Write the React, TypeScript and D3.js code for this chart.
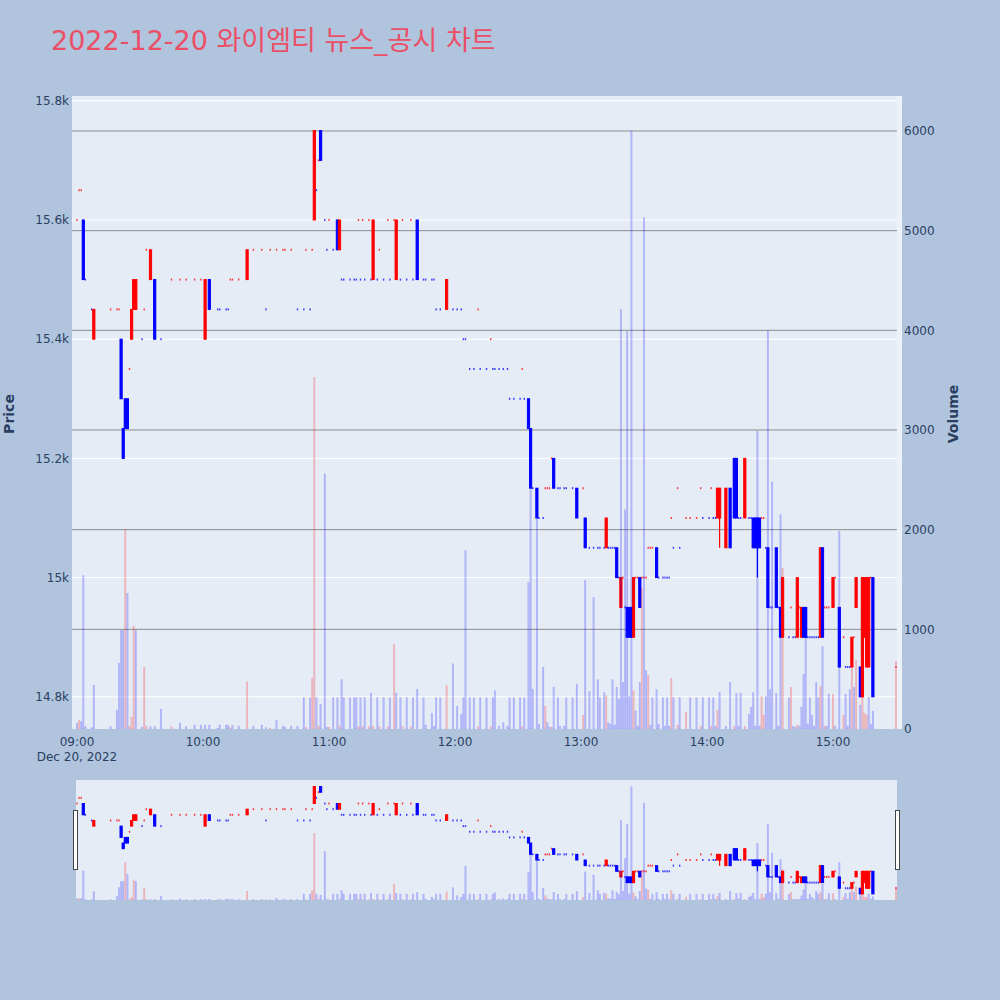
import React, { useEffect } from "react";
import * as d3 from "d3";

const TITLE = "2022-12-20 와이엠티 뉴스_공시 차트";
const timeTicks = [0, 60, 120, 180, 240, 300, 360];
const timeLabels = ["09:00", "10:00", "11:00", "12:00", "13:00", "14:00", "15:00"];
const dateLabel = "Dec 20, 2022";
const priceTicks = [14800, 15000, 15200, 15400, 15600, 15800];
const priceLabels = ["14.8k", "15k", "15.2k", "15.4k", "15.6k", "15.8k"];
const volumeTicks = [0, 1000, 2000, 3000, 4000, 5000, 6000];
const volumeGrid = [1000, 2000, 3000, 4000, 5000, 6000];

// [minutes after 09:00, open, high, low, close, volume, candle colour + volume colour]
const bars: [number, number, number, number, number, number, string][] = [
  [0, 15600, 15600, 15600, 15600, 60, "rb"],
  [1, 15650, 15650, 15650, 15650, 90, "rr"],
  [2, 15650, 15650, 15650, 15650, 75, "rb"],
  [3, 15600, 15600, 15500, 15500, 1540, "bb"],
  [4, 15500, 15500, 15500, 15500, 25, "bb"],
  [7, 15450, 15450, 15450, 15450, 15, "bb"],
  [8, 15400, 15450, 15400, 15450, 440, "rb"],
  [16, 15450, 15450, 15450, 15450, 25, "rb"],
  [19, 15450, 15450, 15450, 15450, 190, "rb"],
  [20, 15450, 15450, 15450, 15450, 660, "rb"],
  [21, 15400, 15400, 15300, 15300, 990, "bb"],
  [22, 15250, 15250, 15200, 15200, 990, "bb"],
  [23, 15300, 15300, 15250, 15250, 2000, "br"],
  [24, 15300, 15300, 15250, 15250, 1360, "bb"],
  [25, 15350, 15350, 15350, 15350, 30, "rr"],
  [26, 15400, 15450, 15400, 15450, 120, "rr"],
  [27, 15450, 15500, 15450, 15500, 1030, "rr"],
  [28, 15450, 15500, 15450, 15500, 990, "rb"],
  [31, 15400, 15400, 15400, 15400, 20, "bb"],
  [32, 15450, 15450, 15450, 15450, 620, "rr"],
  [33, 15550, 15550, 15550, 15550, 30, "rr"],
  [35, 15500, 15550, 15500, 15550, 25, "rb"],
  [37, 15500, 15500, 15400, 15400, 25, "bb"],
  [40, 15400, 15400, 15400, 15400, 200, "bb"],
  [45, 15500, 15500, 15500, 15500, 25, "rr"],
  [49, 15500, 15500, 15500, 15500, 60, "rb"],
  [52, 15500, 15500, 15500, 15500, 25, "rb"],
  [56, 15500, 15500, 15500, 15500, 40, "rb"],
  [59, 15500, 15500, 15500, 15500, 40, "rb"],
  [61, 15400, 15500, 15400, 15500, 40, "rb"],
  [63, 15500, 15500, 15450, 15450, 40, "bb"],
  [67, 15450, 15450, 15450, 15450, 10, "bb"],
  [68, 15450, 15450, 15450, 15450, 40, "bb"],
  [71, 15450, 15450, 15450, 15450, 40, "bb"],
  [72, 15450, 15450, 15450, 15450, 40, "bb"],
  [73, 15500, 15500, 15500, 15500, 15, "rr"],
  [74, 15500, 15500, 15500, 15500, 40, "rb"],
  [77, 15500, 15500, 15500, 15500, 30, "rb"],
  [81, 15500, 15550, 15500, 15550, 475, "rr"],
  [84, 15550, 15550, 15550, 15550, 30, "rb"],
  [88, 15550, 15550, 15550, 15550, 40, "rb"],
  [90, 15450, 15450, 15450, 15450, 15, "bb"],
  [92, 15550, 15550, 15550, 15550, 10, "rr"],
  [95, 15550, 15550, 15550, 15550, 85, "rb"],
  [98, 15550, 15550, 15550, 15550, 30, "rb"],
  [99, 15550, 15550, 15550, 15550, 20, "rb"],
  [102, 15550, 15550, 15550, 15550, 30, "rb"],
  [105, 15450, 15450, 15450, 15450, 30, "bb"],
  [108, 15450, 15450, 15450, 15450, 315, "bb"],
  [109, 15550, 15550, 15550, 15550, 20, "rr"],
  [111, 15450, 15450, 15450, 15450, 315, "bb"],
  [112, 15550, 15550, 15550, 15550, 510, "rr"],
  [113, 15600, 15750, 15600, 15750, 3530, "rr"],
  [114, 15650, 15650, 15650, 15650, 315, "bb"],
  [115, 15700, 15700, 15700, 15700, 30, "rr"],
  [116, 15750, 15750, 15700, 15700, 250, "bb"],
  [118, 15600, 15600, 15600, 15600, 2560, "bb"],
  [119, 15550, 15550, 15550, 15550, 20, "bb"],
  [120, 15600, 15600, 15600, 15600, 20, "rr"],
  [122, 15550, 15550, 15550, 15550, 315, "bb"],
  [124, 15600, 15600, 15550, 15550, 315, "bb"],
  [125, 15550, 15600, 15550, 15600, 30, "rr"],
  [126, 15500, 15500, 15500, 15500, 495, "bb"],
  [127, 15500, 15500, 15500, 15500, 315, "bb"],
  [130, 15500, 15500, 15500, 15500, 315, "bb"],
  [132, 15500, 15500, 15500, 15500, 315, "bb"],
  [133, 15500, 15500, 15500, 15500, 315, "bb"],
  [134, 15600, 15600, 15600, 15600, 25, "rr"],
  [135, 15500, 15500, 15500, 15500, 315, "bb"],
  [136, 15600, 15600, 15600, 15600, 25, "rr"],
  [137, 15500, 15500, 15500, 15500, 315, "bb"],
  [139, 15600, 15600, 15600, 15600, 25, "rr"],
  [140, 15500, 15500, 15500, 15500, 360, "bb"],
  [141, 15500, 15600, 15500, 15600, 30, "rr"],
  [143, 15500, 15500, 15500, 15500, 315, "bb"],
  [144, 15550, 15550, 15550, 15550, 25, "rr"],
  [146, 15500, 15500, 15500, 15500, 315, "bb"],
  [148, 15600, 15600, 15600, 15600, 25, "rr"],
  [149, 15500, 15500, 15500, 15500, 315, "bb"],
  [151, 15600, 15600, 15600, 15600, 850, "rr"],
  [152, 15500, 15600, 15500, 15600, 360, "rb"],
  [154, 15500, 15500, 15500, 15500, 315, "bb"],
  [155, 15600, 15600, 15600, 15600, 25, "rr"],
  [157, 15500, 15500, 15500, 15500, 315, "bb"],
  [159, 15600, 15600, 15600, 15600, 25, "rr"],
  [160, 15500, 15500, 15500, 15500, 315, "bb"],
  [162, 15600, 15600, 15500, 15500, 400, "bb"],
  [165, 15500, 15500, 15500, 15500, 315, "bb"],
  [166, 15500, 15500, 15500, 15500, 40, "bb"],
  [169, 15500, 15500, 15500, 15500, 160, "bb"],
  [170, 15500, 15500, 15500, 15500, 30, "bb"],
  [171, 15450, 15450, 15450, 15450, 315, "bb"],
  [173, 15450, 15450, 15450, 15450, 315, "bb"],
  [176, 15450, 15500, 15450, 15500, 435, "rr"],
  [179, 15450, 15450, 15450, 15450, 655, "bb"],
  [181, 15450, 15450, 15450, 15450, 230, "bb"],
  [183, 15450, 15450, 15450, 15450, 150, "bb"],
  [184, 15400, 15400, 15400, 15400, 315, "bb"],
  [185, 15400, 15400, 15400, 15400, 1790, "bb"],
  [187, 15350, 15350, 15350, 15350, 315, "bb"],
  [189, 15350, 15350, 15350, 15350, 315, "bb"],
  [191, 15450, 15450, 15450, 15450, 25, "rr"],
  [192, 15350, 15350, 15350, 15350, 315, "bb"],
  [195, 15350, 15350, 15350, 15350, 315, "bb"],
  [197, 15400, 15400, 15400, 15400, 25, "rr"],
  [198, 15350, 15350, 15350, 15350, 315, "bb"],
  [199, 15350, 15350, 15350, 15350, 385, "bb"],
  [201, 15350, 15350, 15350, 15350, 30, "bb"],
  [203, 15350, 15350, 15350, 15350, 65, "bb"],
  [205, 15350, 15350, 15350, 15350, 30, "bb"],
  [206, 15300, 15300, 15300, 15300, 315, "bb"],
  [208, 15300, 15300, 15300, 15300, 315, "bb"],
  [211, 15300, 15300, 15300, 15300, 315, "bb"],
  [212, 15350, 15350, 15350, 15350, 25, "rr"],
  [213, 15300, 15300, 15300, 15300, 315, "bb"],
  [215, 15300, 15300, 15250, 15250, 1470, "bb"],
  [216, 15250, 15250, 15150, 15150, 2400, "bb"],
  [217, 15150, 15150, 15150, 15150, 400, "bb"],
  [219, 15150, 15150, 15100, 15100, 2110, "bb"],
  [220, 15100, 15100, 15100, 15100, 50, "bb"],
  [222, 15100, 15100, 15100, 15100, 620, "bb"],
  [223, 15150, 15150, 15150, 15150, 230, "rr"],
  [224, 15150, 15150, 15150, 15150, 65, "rb"],
  [225, 15150, 15150, 15150, 15150, 20, "rb"],
  [226, 15200, 15200, 15200, 15200, 20, "rr"],
  [227, 15200, 15200, 15150, 15150, 420, "bb"],
  [229, 15150, 15150, 15150, 15150, 315, "bb"],
  [230, 15150, 15150, 15150, 15150, 30, "bb"],
  [232, 15150, 15150, 15150, 15150, 30, "bb"],
  [233, 15150, 15150, 15150, 15150, 315, "bb"],
  [236, 15150, 15150, 15150, 15150, 315, "bb"],
  [238, 15150, 15150, 15100, 15100, 450, "bb"],
  [241, 15150, 15150, 15150, 15150, 140, "rr"],
  [242, 15100, 15100, 15050, 15050, 1490, "bb"],
  [244, 15050, 15050, 15050, 15050, 375, "bb"],
  [246, 15050, 15050, 15050, 15050, 1320, "bb"],
  [248, 15050, 15050, 15050, 15050, 495, "bb"],
  [249, 15050, 15050, 15050, 15050, 315, "bb"],
  [251, 15050, 15050, 15050, 15050, 365, "bb"],
  [252, 15050, 15100, 15050, 15100, 335, "rr"],
  [253, 15050, 15050, 15050, 15050, 65, "bb"],
  [254, 15050, 15050, 15050, 15050, 50, "bb"],
  [255, 15050, 15050, 15050, 15050, 495, "bb"],
  [256, 15050, 15050, 15050, 15050, 40, "bb"],
  [257, 15050, 15050, 15000, 15000, 420, "bb"],
  [258, 15000, 15000, 15000, 15000, 300, "bb"],
  [259, 14950, 15000, 14950, 15000, 4210, "rb"],
  [260, 15000, 15000, 15000, 15000, 470, "rb"],
  [261, 14950, 14950, 14950, 14950, 2200, "bb"],
  [262, 14950, 14950, 14900, 14900, 3990, "bb"],
  [263, 14950, 14950, 14900, 14900, 325, "bb"],
  [264, 14950, 14950, 14900, 14900, 6000, "bb"],
  [265, 14900, 15000, 14900, 15000, 385, "rr"],
  [266, 15000, 15000, 15000, 15000, 180, "rb"],
  [267, 15000, 15000, 15000, 15000, 30, "rb"],
  [268, 15000, 15000, 14950, 14950, 470, "bb"],
  [269, 15000, 15000, 15000, 15000, 1410, "rr"],
  [270, 15000, 15000, 15000, 15000, 5130, "rb"],
  [271, 15000, 15000, 15000, 15000, 590, "rb"],
  [272, 15050, 15050, 15050, 15050, 540, "rr"],
  [273, 15050, 15050, 15050, 15050, 40, "rb"],
  [274, 15050, 15050, 15050, 15050, 315, "rb"],
  [276, 15050, 15050, 15000, 15000, 395, "bb"],
  [277, 15000, 15000, 15000, 15000, 50, "bb"],
  [279, 15000, 15000, 15000, 15000, 315, "bb"],
  [280, 15000, 15000, 15000, 15000, 30, "bb"],
  [281, 15000, 15000, 15000, 15000, 315, "bb"],
  [282, 15000, 15000, 15000, 15000, 30, "bb"],
  [283, 15100, 15100, 15100, 15100, 510, "rr"],
  [284, 15050, 15050, 15050, 15050, 315, "bb"],
  [286, 15150, 15150, 15150, 15150, 40, "rr"],
  [287, 15050, 15050, 15050, 15050, 315, "bb"],
  [290, 15100, 15100, 15100, 15100, 170, "rr"],
  [292, 15100, 15100, 15100, 15100, 315, "rb"],
  [295, 15100, 15100, 15100, 15100, 315, "rb"],
  [297, 15150, 15150, 15150, 15150, 30, "rr"],
  [298, 15100, 15100, 15100, 15100, 315, "bb"],
  [301, 15100, 15100, 15100, 15100, 315, "bb"],
  [302, 15150, 15150, 15150, 15150, 30, "rr"],
  [303, 15100, 15100, 15100, 15100, 315, "bb"],
  [304, 15100, 15100, 15100, 15100, 30, "bb"],
  [305, 15100, 15150, 15100, 15150, 190, "rr"],
  [306, 15100, 15150, 15050, 15150, 365, "rb"],
  [309, 15050, 15150, 15050, 15150, 30, "rb"],
  [311, 15150, 15150, 15050, 15050, 470, "bb"],
  [313, 15200, 15200, 15100, 15100, 30, "br"],
  [314, 15200, 15200, 15100, 15100, 360, "bb"],
  [315, 15100, 15100, 15100, 15100, 30, "bb"],
  [316, 15100, 15100, 15100, 15100, 360, "bb"],
  [318, 15100, 15200, 15100, 15200, 30, "rr"],
  [320, 15100, 15100, 15100, 15100, 150, "bb"],
  [321, 15100, 15100, 15100, 15100, 220, "bb"],
  [322, 15100, 15100, 15050, 15050, 365, "bb"],
  [323, 15100, 15100, 15050, 15050, 30, "bb"],
  [324, 15100, 15100, 15000, 15050, 2990, "bb"],
  [325, 15100, 15100, 15050, 15050, 30, "bb"],
  [326, 15100, 15100, 15100, 15100, 325, "rr"],
  [327, 15100, 15100, 15100, 15100, 140, "rr"],
  [328, 15050, 15050, 15050, 15050, 325, "bb"],
  [329, 15050, 15050, 14950, 14950, 4000, "bb"],
  [330, 14950, 14950, 14950, 14950, 395, "bb"],
  [331, 14950, 14950, 14950, 14950, 2480, "bb"],
  [333, 15050, 15050, 14950, 14950, 360, "bb"],
  [334, 14950, 14950, 14950, 14950, 30, "bb"],
  [335, 14950, 14950, 14900, 14900, 2150, "bb"],
  [336, 14900, 15000, 14900, 15000, 1615, "rr"],
  [339, 14900, 14900, 14900, 14900, 315, "bb"],
  [340, 14950, 14950, 14950, 14950, 420, "rr"],
  [341, 14900, 14900, 14900, 14900, 30, "bb"],
  [342, 14900, 14900, 14900, 14900, 20, "bb"],
  [343, 14900, 15000, 14900, 15000, 40, "rr"],
  [344, 14950, 14950, 14950, 14950, 30, "rb"],
  [345, 14900, 14950, 14900, 14950, 220, "rb"],
  [346, 14950, 14950, 14900, 14900, 550, "bb"],
  [347, 14950, 14950, 14900, 14900, 960, "bb"],
  [348, 14900, 14900, 14900, 14900, 50, "bb"],
  [349, 14900, 14900, 14900, 14900, 315, "bb"],
  [350, 14900, 14900, 14900, 14900, 140, "bb"],
  [351, 14900, 14900, 14900, 14900, 30, "bb"],
  [352, 14900, 14900, 14900, 14900, 470, "bb"],
  [353, 14900, 14900, 14900, 14900, 315, "bb"],
  [354, 14900, 15050, 14900, 15050, 425, "rr"],
  [355, 15050, 15050, 14900, 14900, 830, "bb"],
  [356, 14950, 14950, 14950, 14950, 30, "rr"],
  [357, 14950, 14950, 14950, 14950, 30, "rb"],
  [358, 14950, 14950, 14950, 14950, 350, "rb"],
  [360, 14950, 15000, 14950, 15000, 350, "rr"],
  [361, 15000, 15000, 15000, 15000, 30, "rb"],
  [363, 14950, 14950, 14850, 14850, 1985, "bb"],
  [365, 14900, 14900, 14900, 14900, 140, "rr"],
  [366, 14850, 14850, 14850, 14850, 350, "bb"],
  [367, 14850, 14850, 14850, 14850, 30, "bb"],
  [368, 14850, 14850, 14850, 14850, 395, "bb"],
  [369, 14850, 14900, 14850, 14900, 690, "rr"],
  [370, 14900, 14900, 14900, 14900, 420, "rb"],
  [371, 14950, 15000, 14950, 15000, 690, "rr"],
  [373, 14850, 14850, 14800, 14800, 240, "bb"],
  [374, 14800, 15000, 14800, 15000, 320, "rr"],
  [375, 14900, 15000, 14900, 15000, 160, "rr"],
  [376, 14850, 15000, 14850, 15000, 140, "rr"],
  [377, 14850, 15000, 14850, 15000, 320, "rb"],
  [378, 15000, 15000, 15000, 15000, 50, "rb"],
  [379, 15000, 15000, 14800, 14800, 180, "bb"],
  [390, 14850, 14850, 14850, 14850, 680, "rr"],
];

const RED = "#ff0000";
const BLUE = "#0000ff";
const PAPER = "#b0c4de";
const PLOT_BG = "#e5ecf6";
const TEXT = "#2a3f5f";
const FONT = "'DejaVu Sans', Verdana, 'Noto Sans CJK KR', sans-serif";

const PLOT = { left: 72, right: 902, top: 96, bottom: 729 };
const SLIDER = { left: 76, right: 897, top: 780, bottom: 900 };

function Candles({ x, yP, keyPrefix }: { x: d3.ScaleLinear<number, number>; yP: d3.ScaleLinear<number, number>; keyPrefix: string }) {
  return (
    <g>
      {bars.map((b) => {
        const [m, o, h, l, c, , col] = b;
        const cx = x(m);
        const color = col[0] === "r" ? RED : BLUE;
        if (o === c && h === l) {
          return (
            <rect key={keyPrefix + m} x={cx - 0.7} y={yP(c) - 1} width={1.4} height={2} fill={color} opacity={0.75} />
          );
        }
        const yTop = yP(Math.max(o, c));
        const yBot = yP(Math.min(o, c));
        return (
          <g key={keyPrefix + m}>
            <line x1={cx} x2={cx} y1={yP(h)} y2={yP(l)} stroke={color} strokeWidth={1.2} />
            <rect x={cx - 1.1} y={yTop} width={2.2} height={Math.max(yBot - yTop, 0.5)} fill={color} stroke={color} strokeWidth={1} />
          </g>
        );
      })}
    </g>
  );
}

function Volumes({ x, yV, keyPrefix }: { x: d3.ScaleLinear<number, number>; yV: d3.ScaleLinear<number, number>; keyPrefix: string }) {
  return (
    <g>
      {bars.map((b) => {
        const m = b[0];
        const v = b[5];
        const col = b[6];
        const color = col[1] === "r" ? RED : BLUE;
        const cx = x(m);
        return (
          <rect
            key={keyPrefix + m}
            x={cx - 0.8}
            y={yV(v)}
            width={1.6}
            height={yV(0) - yV(v)}
            fill={color}
            fillOpacity={0.22}
            stroke={color}
            strokeOpacity={0.12}
            strokeWidth={0.5}
          />
        );
      })}
    </g>
  );
}

export default function App() {
  useEffect(() => {
    document.body.style.margin = "0";
    document.body.style.background = PAPER;
  }, []);

  const x = d3.scaleLinear().domain([timeTicks[0], timeTicks[6]]).range([77, 833]);
  const yP = d3.scaleLinear().domain([14746, 15808]).range([PLOT.bottom, PLOT.top]);
  const yV = d3.scaleLinear().domain([0, 6351]).range([PLOT.bottom, PLOT.top]);
  const syP = d3.scaleLinear().domain([14746, 15808]).range([SLIDER.bottom, SLIDER.top]);
  const syV = d3.scaleLinear().domain([0, 6351]).range([SLIDER.bottom, SLIDER.top]);

  return (
    <svg width={1000} height={1000} style={{ display: "block", position: "absolute", left: 0, top: 0 }} fontFamily={FONT}>
      <defs>
        <clipPath id="plotClip">
          <rect x={PLOT.left} y={PLOT.top} width={PLOT.right - PLOT.left} height={PLOT.bottom - PLOT.top} />
        </clipPath>
        <clipPath id="sliderClip">
          <rect x={SLIDER.left} y={SLIDER.top} width={SLIDER.right - SLIDER.left} height={SLIDER.bottom - SLIDER.top} />
        </clipPath>
      </defs>
      <rect x={0} y={0} width={1000} height={1000} fill={PAPER} />
      <text x={51} y={50} fontSize={27} fill="#ea4f66">{TITLE}</text>

      {/* main plot */}
      <rect x={PLOT.left} y={PLOT.top} width={PLOT.right - PLOT.left} height={PLOT.bottom - PLOT.top} fill={PLOT_BG} />
      <rect x={897} y={PLOT.top} width={PLOT.right - 897} height={PLOT.bottom - PLOT.top} fill="#edf1f8" />
      {priceTicks.map((p) => (
        <line key={"pg" + p} x1={PLOT.left} x2={897} y1={yP(p)} y2={yP(p)} stroke="#ffffff" strokeWidth={1} />
      ))}
      {volumeGrid.map((v) => (
        <line key={"vg" + v} x1={PLOT.left} x2={897} y1={yV(v)} y2={yV(v)} stroke="#8c8c8c" strokeWidth={1} />
      ))}
      <g clipPath="url(#plotClip)">
        <Candles x={x} yP={yP} keyPrefix="c" />
        <Volumes x={x} yV={yV} keyPrefix="v" />
      </g>

      {/* axes labels */}
      {priceTicks.map((p, i) => (
        <text key={"pl" + p} x={69} y={yP(p)} dy="0.35em" textAnchor="end" fontSize={12} fill={TEXT}>
          {priceLabels[i]}
        </text>
      ))}
      {volumeTicks.map((v) => (
        <text key={"vl" + v} x={904} y={yV(v)} dy="0.35em" textAnchor="start" fontSize={12} fill={TEXT}>
          {v}
        </text>
      ))}
      {timeTicks.map((t, i) => (
        <text key={"tl" + t} x={x(t)} y={746} textAnchor="middle" fontSize={12} fill={TEXT}>
          {timeLabels[i]}
        </text>
      ))}
      <text x={x(0)} y={761} textAnchor="middle" fontSize={12} fill={TEXT}>{dateLabel}</text>
      <text transform="translate(14,414) rotate(-90)" textAnchor="middle" fontSize={14} fontWeight="bold" fill={TEXT}>Price</text>
      <text transform="translate(958,414) rotate(-90)" textAnchor="middle" fontSize={14} fontWeight="bold" fill={TEXT}>Volume</text>

      {/* range slider */}
      <rect x={SLIDER.left} y={SLIDER.top} width={SLIDER.right - SLIDER.left} height={SLIDER.bottom - SLIDER.top} fill={PLOT_BG} />
      <g clipPath="url(#sliderClip)">
        <Candles x={x} yP={syP} keyPrefix="sc" />
        <Volumes x={x} yV={syV} keyPrefix="sv" />
      </g>
      <rect x={73.5} y={810.5} width={4} height={59} fill="#ffffff" stroke="#444" strokeWidth={1} />
      <rect x={895.5} y={810.5} width={4} height={59} fill="#ffffff" stroke="#444" strokeWidth={1} />
    </svg>
  );
}
